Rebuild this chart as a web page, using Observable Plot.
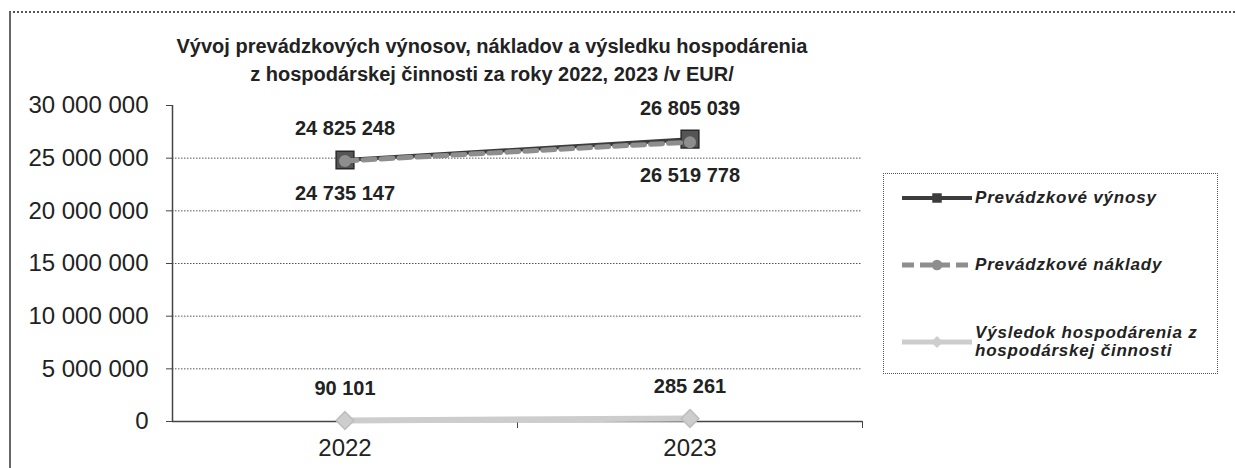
<!DOCTYPE html>
<html>
<head>
<meta charset="utf-8">
<script src="https://cdn.jsdelivr.net/npm/d3@7"></script>
<script src="https://cdn.jsdelivr.net/npm/@observablehq/plot@0.6"></script>
<style>
  html, body { margin: 0; padding: 0; background: #fff; }
  body { width: 1235px; height: 468px; overflow: hidden; position: relative; font-family: "Liberation Sans", Arial, sans-serif; color: #222; }
  #frame { position: absolute; left: 9px; top: 11px; width: 1226px; height: 457px; box-sizing: border-box;
           border-top: 2px dotted #555; border-left: 2px solid #666; }
  #title { position: absolute; left: 0; top: 32px; width: 984px; text-align: center; font-weight: bold;
           font-size: 20px; line-height: 28px; color: #222; }
  #chart { position: absolute; left: 0; top: 90px; }
  #legend { position: absolute; left: 883px; top: 173px; width: 335px; height: 201px; box-sizing: border-box;
            border: 1.5px dotted #555; }
  .item { position: absolute; left: 0; display: flex; align-items: center; }
  .item svg { flex: none; margin-left: 18px; margin-right: 3px; }
  .item span { font-weight: bold; font-style: italic; font-size: 17px; letter-spacing: 0.8px; line-height: 18px; width: 240px; color: #222; }
</style>
</head>
<body>
<div id="frame"></div>
<div id="title">Vývoj prevádzkových výnosov, nákladov a výsledku hospodárenia<br>z hospodárskej činnosti za roky 2022, 2023 /v EUR/</div>
<div id="chart"></div>
<div id="legend"></div>
<script>
// ---- data ----
const years = [2022, 2023];
const vynosy = [24825248, 26805039];     // Prevádzkové výnosy
const naklady = [24735147, 26519778];    // Prevádzkové náklady
const vysledok = [90101, 285261];        // Výsledok hospodárenia z hospodárskej činnosti
const seriesNames = ["Prevádzkové výnosy", "Prevádzkové náklady", "Výsledok hospodárenia z hospodárskej činnosti"];
const yTicks = [0, 5000000, 10000000, 15000000, 20000000, 25000000, 30000000];
const gridTicks = [5000000, 10000000, 15000000, 20000000, 25000000];
const xDomain = [2021.5, 2023.5];
const xBoundaries = [2022.5, 2023.5];
const yDomain = [0, 30000000];

const fmt = v => d3.format(",")(v).replace(/,/g, " ");
const rows = (vals, name) => years.map((year, i) => ({year, value: vals[i], series: name}));
const rVyn = rows(vynosy, seriesNames[0]);
const rNak = rows(naklady, seriesNames[1]);
const rVys = rows(vysledok, seriesNames[2]);

const C_VYN = "#3c3c3c", C_NAK = "#8e8e8e", C_VYS = "#cdcdcd";

const chart = Plot.plot({
  width: 880,
  height: 378,
  marginLeft: 172,
  marginRight: 18,
  marginTop: 15,
  marginBottom: 47,
  style: {fontFamily: "'Liberation Sans', Arial, sans-serif", color: "#222", background: "transparent"},
  x: {type: "linear", domain: xDomain},
  y: {domain: yDomain},
  marks: [
    Plot.ruleY(gridTicks, {stroke: "#555", strokeWidth: 1, strokeDasharray: "1.5,1.5"}),
    Plot.ruleY([0], {stroke: "#444", strokeWidth: 1.5}),
    Plot.ruleX([xDomain[0]], {y1: yDomain[0], y2: yDomain[1], stroke: "#444", strokeWidth: 1.5}),
    Plot.axisY({ticks: yTicks, tickFormat: fmt, tickSize: 6, tickPadding: 18, fontSize: 24, label: null, stroke: "#444"}),
    Plot.axisX({ticks: years, tickSize: 0, tickPadding: 17, tickFormat: d => String(d), fontSize: 24, label: null}),
    Plot.axisX({ticks: xBoundaries, tickSize: 7, tickFormat: () => "", label: null, stroke: "#444"}),
    // Výsledok
    Plot.lineY(rVys, {x: "year", y: "value", stroke: C_VYS, strokeWidth: 6}),
    Plot.dot(rVys, {x: "year", y: "value", symbol: "diamond2", r: 8, fill: C_VYS, stroke: "#bdbdbd"}),
    // Výnosy
    Plot.lineY(rVyn, {x: "year", y: "value", stroke: C_VYN, strokeWidth: 4}),
    Plot.dot(rVyn, {x: "year", y: "value", symbol: "square", r: 10, fill: "#555", stroke: "#2a2a2a", strokeWidth: 1.5}),
    // Náklady
    Plot.lineY(rNak, {x: "year", y: "value", stroke: C_NAK, strokeWidth: 5, strokeDasharray: "12,6"}),
    Plot.dot(rNak, {x: "year", y: "value", symbol: "circle", r: 6, fill: C_NAK}),
    // labels
    Plot.text(rVyn, {x: "year", y: "value", text: d => fmt(d.value), dy: -31, fontSize: 20, fontWeight: "bold", fill: "#222"}),
    Plot.text(rNak, {x: "year", y: "value", text: d => fmt(d.value), dy: 33, fontSize: 20, fontWeight: "bold", fill: "#222"}),
    Plot.text(rVys, {x: "year", y: "value", text: d => fmt(d.value), dy: -32, fontSize: 20, fontWeight: "bold", fill: "#222"})
  ]
});
document.getElementById("chart").appendChild(chart);

// ---- legend ----
const legendSpec = [
  {name: seriesNames[0], color: C_VYN, width: 4, dash: null, symbol: d3.symbolSquare, size: 90, top: 14},
  {name: seriesNames[1], color: C_NAK, width: 5, dash: "12,6", symbol: d3.symbolCircle, size: 90, top: 81},
  {name: seriesNames[2], color: C_VYS, width: 5, dash: null, symbol: d3.symbolDiamond2 || d3.symbolSquare, size: 90, top: 150}
];
const legend = d3.select("#legend");
legendSpec.forEach(s => {
  const item = legend.append("div").attr("class", "item").style("top", s.top + "px");
  const svg = item.append("svg").attr("width", 70).attr("height", 20);
  svg.append("line").attr("x1", 0).attr("x2", 70).attr("y1", 10).attr("y2", 10)
    .attr("stroke", s.color).attr("stroke-width", s.width).attr("stroke-dasharray", s.dash);
  svg.append("path").attr("d", d3.symbol(s.symbol, s.size)()).attr("transform", "translate(35,10)").attr("fill", s.color);
  item.append("span").text(s.name);
});
</script>
</body>
</html>
